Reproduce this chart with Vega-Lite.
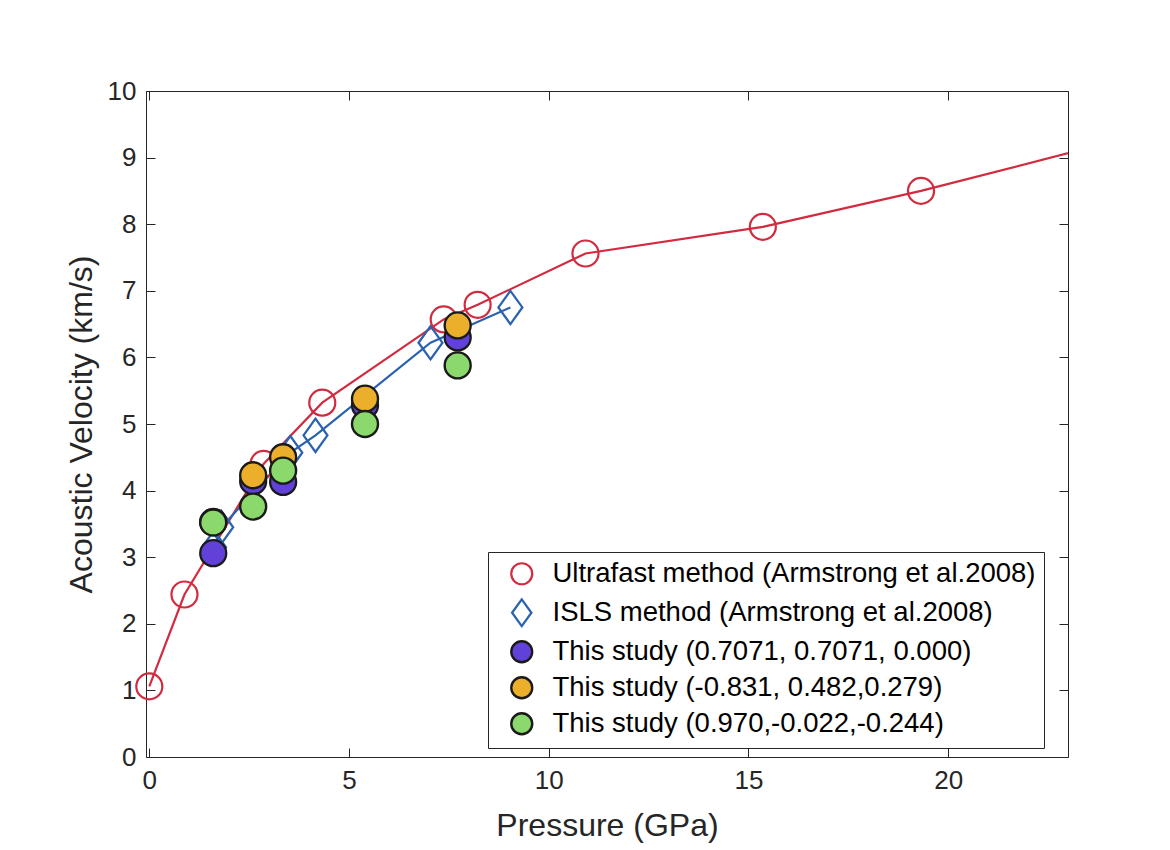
{
  "$schema": "https://vega.github.io/schema/vega-lite/v6.json",
  "autosize": "none",
  "width": 922,
  "height": 666,
  "padding": {"left": 146, "top": 91, "right": 102, "bottom": 93},
  "background": "white",
  "config": {
    "font": "Liberation Sans",
    "view": {"stroke": null},
    "axis": {
      "domainColor": "#262626",
      "tickColor": "#262626",
      "labelColor": "#262626",
      "titleColor": "#262626",
      "grid": false,
      "tickSize": -9,
      "labelFontSize": 26,
      "titleFontSize": 32,
      "titleFontWeight": "normal",
      "labelFont": "Liberation Sans",
      "titleFont": "Liberation Sans"
    },
    "legend": {
      "labelFontSize": 27.5,
      "labelFont": "Liberation Sans",
      "labelColor": "#000000",
      "labelLimit": 800
    }
  },
  "data": {
    "values": [
      {"series": "Ultrafast method (Armstrong et al.2008)", "p": 0.0, "v": 1.06},
      {"series": "Ultrafast method (Armstrong et al.2008)", "p": 0.88, "v": 2.44},
      {"series": "Ultrafast method (Armstrong et al.2008)", "p": 2.86, "v": 4.40},
      {"series": "Ultrafast method (Armstrong et al.2008)", "p": 4.33, "v": 5.32},
      {"series": "Ultrafast method (Armstrong et al.2008)", "p": 7.37, "v": 6.57},
      {"series": "Ultrafast method (Armstrong et al.2008)", "p": 8.22, "v": 6.79},
      {"series": "Ultrafast method (Armstrong et al.2008)", "p": 10.92, "v": 7.56},
      {"series": "Ultrafast method (Armstrong et al.2008)", "p": 15.36, "v": 7.96},
      {"series": "Ultrafast method (Armstrong et al.2008)", "p": 19.32, "v": 8.50},
      {"series": "Ultrafast method (Armstrong et al.2008)", "p": 24.0, "v": 9.22},
      {"series": "ISLS method (Armstrong et al.2008)", "p": 1.62, "v": 3.15},
      {"series": "ISLS method (Armstrong et al.2008)", "p": 1.8, "v": 3.45},
      {"series": "ISLS method (Armstrong et al.2008)", "p": 3.53, "v": 4.57},
      {"series": "ISLS method (Armstrong et al.2008)", "p": 4.16, "v": 4.83},
      {"series": "ISLS method (Armstrong et al.2008)", "p": 7.04, "v": 6.22},
      {"series": "ISLS method (Armstrong et al.2008)", "p": 9.04, "v": 6.75},
      {"series": "This study (0.7071, 0.7071, 0.000)", "p": 1.6, "v": 3.06},
      {"series": "This study (0.7071, 0.7071, 0.000)", "p": 2.6, "v": 4.14},
      {"series": "This study (0.7071, 0.7071, 0.000)", "p": 3.35, "v": 4.13},
      {"series": "This study (0.7071, 0.7071, 0.000)", "p": 5.4, "v": 5.28},
      {"series": "This study (0.7071, 0.7071, 0.000)", "p": 7.72, "v": 6.30},
      {"series": "This study (-0.831, 0.482,0.279)", "p": 1.6, "v": 3.53},
      {"series": "This study (-0.831, 0.482,0.279)", "p": 2.6, "v": 4.23},
      {"series": "This study (-0.831, 0.482,0.279)", "p": 3.35, "v": 4.50},
      {"series": "This study (-0.831, 0.482,0.279)", "p": 5.4, "v": 5.38},
      {"series": "This study (-0.831, 0.482,0.279)", "p": 7.72, "v": 6.48},
      {"series": "This study (0.970,-0.022,-0.244)", "p": 1.6, "v": 3.52},
      {"series": "This study (0.970,-0.022,-0.244)", "p": 2.6, "v": 3.76},
      {"series": "This study (0.970,-0.022,-0.244)", "p": 3.35, "v": 4.30},
      {"series": "This study (0.970,-0.022,-0.244)", "p": 5.4, "v": 5.00},
      {"series": "This study (0.970,-0.022,-0.244)", "p": 7.72, "v": 5.88}
    ]
  },
  "resolve": {"axis": {"x": "independent", "y": "independent"}},
  "layer": [
    {
      "transform": [{"filter": "datum.series === 'Ultrafast method (Armstrong et al.2008)'"}],
      "mark": {"type": "line", "color": "#D22B3F", "strokeWidth": 2.2, "clip": true},
      "encoding": {
        "x": {"field": "p", "type": "quantitative", "scale": {"domain": [-0.083, 23], "nice": false, "zero": false},
              "axis": {"orient": "bottom", "values": [0, 5, 10, 15, 20], "title": "Pressure (GPa)", "labelPadding": 19, "titlePadding": 17}},
        "y": {"field": "v", "type": "quantitative", "scale": {"domain": [0, 10], "nice": false},
              "axis": {"orient": "left", "values": [0,1,2,3,4,5,6,7,8,9,10], "title": "Acoustic Velocity (km/s)", "labelPadding": 19, "titlePadding": 9}}
      }
    },
    {
      "transform": [{"filter": "datum.series === 'ISLS method (Armstrong et al.2008)'"}],
      "mark": {"type": "line", "color": "#2A62B0", "strokeWidth": 2.2, "clip": true},
      "encoding": {
        "x": {"field": "p", "type": "quantitative", "axis": null},
        "y": {"field": "v", "type": "quantitative", "axis": null}
      }
    },
    {
      "transform": [{"filter": "datum.p <= 23"}],
      "mark": {"type": "point", "filled": true, "size": 676, "opacity": 1},
      "encoding": {
        "x": {"field": "p", "type": "quantitative", "axis": null},
        "y": {"field": "v", "type": "quantitative", "axis": null},
        "shape": {"field": "series", "type": "nominal",
          "scale": {"domain": ["Ultrafast method (Armstrong et al.2008)", "ISLS method (Armstrong et al.2008)", "This study (0.7071, 0.7071, 0.000)", "This study (-0.831, 0.482,0.279)", "This study (0.970,-0.022,-0.244)"],
                    "range": ["circle", "M-0.92,0L0,-1.28L0.92,0L0,1.28Z", "circle", "circle", "circle"]},
          "legend": {"title": null, "orient": "none", "legendX": 342, "legendY": 461, "strokeColor": "#262626", "fillColor": "white", "padding": 8, "rowPadding": 5, "symbolSize": 441, "symbolStrokeWidth": 2, "symbolOffset": 12, "labelOffset": 17, "labelExpr": "datum.label + '\u00a0'"}},
        "fill": {"field": "series", "type": "nominal",
          "scale": {"domain": ["Ultrafast method (Armstrong et al.2008)", "ISLS method (Armstrong et al.2008)", "This study (0.7071, 0.7071, 0.000)", "This study (-0.831, 0.482,0.279)", "This study (0.970,-0.022,-0.244)"],
                    "range": ["transparent", "transparent", "#6241D9", "#EBAF2B", "#8BD86C"]}},
        "stroke": {"field": "series", "type": "nominal",
          "scale": {"domain": ["Ultrafast method (Armstrong et al.2008)", "ISLS method (Armstrong et al.2008)", "This study (0.7071, 0.7071, 0.000)", "This study (-0.831, 0.482,0.279)", "This study (0.970,-0.022,-0.244)"],
                    "range": ["#D22B3F", "#2A62B0", "#1A1A1A", "#1A1A1A", "#1A1A1A"]}},
        "strokeWidth": {"field": "series", "type": "nominal", "legend": null,
          "scale": {"domain": ["Ultrafast method (Armstrong et al.2008)", "ISLS method (Armstrong et al.2008)", "This study (0.7071, 0.7071, 0.000)", "This study (-0.831, 0.482,0.279)", "This study (0.970,-0.022,-0.244)"],
                    "range": [2.2, 2.4, 1.5, 1.5, 1.5]}}
      }
    },
    {
      "mark": {"type": "point", "opacity": 0},
      "encoding": {
        "x": {"field": "p", "type": "quantitative", "axis": {"orient": "top", "values": [0, 5, 10, 15, 20], "labels": false, "title": null}},
        "y": {"field": "v", "type": "quantitative", "axis": {"orient": "right", "values": [0,1,2,3,4,5,6,7,8,9,10], "labels": false, "title": null}}
      }
    }
  ]
}
